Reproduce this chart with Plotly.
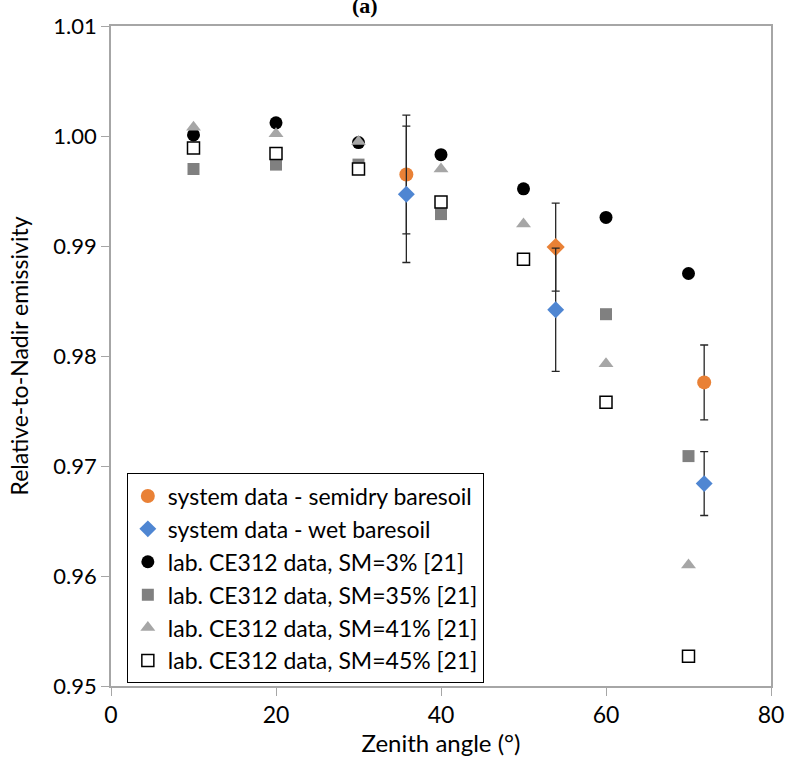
import plotly.graph_objects as go

angles_lab = [10, 20, 30, 40, 50, 60, 70]
sm3 = [1.0001, 1.0012, 0.9994, 0.9983, 0.9952, 0.9926, 0.9875]
sm35 = [0.9970, 0.9974, 0.9974, 0.9929, 0.9888, 0.9838, 0.9709]
sm41 = [1.0008, 1.0002, 0.9995, 0.9970, 0.9920, 0.9793, 0.9610]
sm45 = [0.9989, 0.9984, 0.9970, 0.9940, 0.9888, 0.9758, 0.9527]

angles_sys = [35.8, 53.9, 71.9]
semidry = [0.9965, 0.9899, 0.9776]
semidry_err = [0.0054, 0.0040, 0.0034]
wet = [0.9947, 0.9842, 0.9684]
wet_err = [0.0062, 0.0056, 0.0029]

FONT = "Lato"
fig = go.Figure()

err_style = dict(type="data", visible=True, color="#262626", thickness=1.3, width=4)

fig.add_trace(go.Scatter(x=angles_sys, y=semidry, mode="markers", name="system data - semidry baresoil",
                         marker=dict(symbol=["circle", "diamond", "circle"], size=14, color="#E98136", opacity=1),
                         error_y=dict(array=semidry_err, **err_style)))
fig.add_trace(go.Scatter(x=angles_sys, y=wet, mode="markers", name="system data - wet baresoil",
                         marker=dict(symbol="diamond", size=13, color="#4F86D2", opacity=1),
                         error_y=dict(array=wet_err, **err_style)))
fig.add_trace(go.Scatter(x=angles_lab, y=sm3, mode="markers", name="lab. CE312 data, SM=3% [21]",
                         marker=dict(symbol="circle", size=13, color="#000000")))
fig.add_trace(go.Scatter(x=angles_lab, y=sm35, mode="markers", name="lab. CE312 data, SM=35% [21]",
                         marker=dict(symbol="square", size=12, color="#808080")))
fig.add_trace(go.Scatter(x=angles_lab, y=sm41, mode="markers", name="lab. CE312 data, SM=41% [21]",
                         marker=dict(symbol="triangle-up", size=13, color="#A6A6A6")))
fig.add_trace(go.Scatter(x=angles_lab, y=sm45, mode="markers", name="lab. CE312 data, SM=45% [21]",
                         marker=dict(symbol="square", size=12, color="#FFFFFF",
                                     line=dict(color="#000000", width=1.5))))

fig.update_layout(
    width=796, height=757,
    margin=dict(l=111, r=16, t=26, b=70),
    paper_bgcolor="white", plot_bgcolor="white",
    font=dict(family=FONT, color="#000000"),
    showlegend=True,
    legend=dict(x=0.024, y=0.322, xanchor="left", yanchor="top",
                bordercolor="#000000", borderwidth=1, bgcolor="white",
                font=dict(family=FONT, size=23, color="#000000"),
                itemwidth=30),
    xaxis=dict(range=[0, 80], dtick=20, tick0=0, showgrid=False, zeroline=False,
               showline=True, linecolor="#A6A6A6", linewidth=1.5, mirror=True,
               ticks="outside", ticklen=8, tickcolor="#A6A6A6",
               tickfont=dict(family=FONT, size=23),
               title=dict(text="Zenith angle (°)", font=dict(family=FONT, size=24), standoff=0)),
    yaxis=dict(range=[0.95, 1.01], dtick=0.01, tick0=0.95, tickformat=".2f", showgrid=False, zeroline=False,
               showline=True, linecolor="#A6A6A6", linewidth=1.5, mirror=True,
               ticks="outside", ticklen=8, tickcolor="#A6A6A6",
               tickfont=dict(family=FONT, size=22),
               title=dict(text="Relative-to-Nadir emissivity", font=dict(family=FONT, size=23), standoff=18)),
)

fig.add_annotation(text="<b>(a)</b>", xref="paper", yref="paper", x=0.385, y=1.0, yshift=6,
                   xanchor="center", yanchor="bottom", showarrow=False,
                   font=dict(family="Liberation Serif", size=22, color="#000000"))

fig.write_html("out.html")
